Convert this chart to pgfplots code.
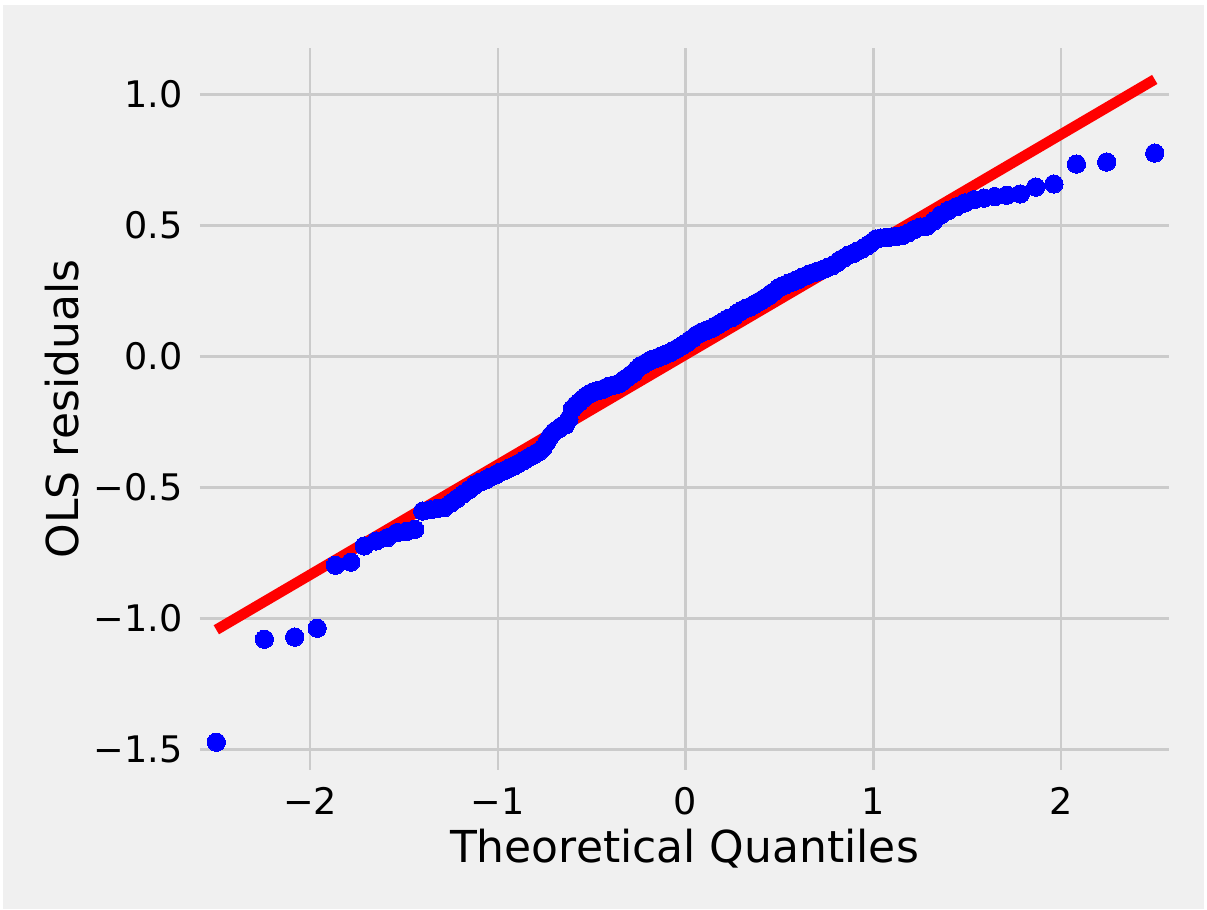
\documentclass[border=0pt]{standalone}
\usepackage{fontspec}
\setmainfont{DejaVu Sans}
\usepackage{pgfplots}
\pgfplotsset{compat=1.18}
\usepackage{pgfplotstable}
\definecolor{bg}{HTML}{F0F0F0}
\definecolor{gridc}{HTML}{CBCBCB}
\pgfplotstableread{
x y
-2.5000 -1.472
-2.2439 -1.079
-2.0828 -1.071
-1.9627 -1.037
-1.8655 -0.797
-1.7834 -0.785
-1.7117 -0.723
-1.6479 -0.704
-1.5902 -0.692
-1.5373 -0.672
-1.4884 -0.668
-1.4428 -0.660
-1.4001 -0.590
-1.3597 -0.585
-1.3215 -0.580
-1.2851 -0.577
-1.2503 -0.560
-1.2170 -0.542
-1.1850 -0.525
-1.1541 -0.509
-1.1244 -0.492
-1.0955 -0.480
-1.0676 -0.472
-1.0404 -0.460
-1.0141 -0.453
-0.9884 -0.442
-0.9633 -0.435
-0.9388 -0.425
-0.9149 -0.419
-0.8915 -0.409
-0.8686 -0.400
-0.8461 -0.390
-0.8240 -0.381
-0.8024 -0.372
-0.7811 -0.363
-0.7601 -0.350
-0.7395 -0.327
-0.7191 -0.303
-0.6991 -0.287
-0.6794 -0.278
-0.6599 -0.266
-0.6407 -0.262
-0.6217 -0.239
-0.6029 -0.200
-0.5843 -0.185
-0.5659 -0.174
-0.5478 -0.162
-0.5298 -0.151
-0.5119 -0.143
-0.4943 -0.136
-0.4767 -0.132
-0.4594 -0.129
-0.4421 -0.126
-0.4250 -0.119
-0.4081 -0.114
-0.3912 -0.111
-0.3744 -0.108
-0.3578 -0.105
-0.3412 -0.098
-0.3248 -0.087
-0.3084 -0.080
-0.2921 -0.070
-0.2759 -0.063
-0.2598 -0.049
-0.2437 -0.038
-0.2277 -0.032
-0.2118 -0.025
-0.1959 -0.018
-0.1800 -0.012
-0.1642 -0.009
-0.1484 -0.005
-0.1327 0.001
-0.1170 0.004
-0.1014 0.010
-0.0857 0.013
-0.0701 0.020
-0.0545 0.026
-0.0389 0.033
-0.0234 0.039
-0.0078 0.046
0.0078 0.052
0.0234 0.063
0.0389 0.069
0.0545 0.080
0.0701 0.086
0.0857 0.093
0.1014 0.096
0.1170 0.102
0.1327 0.105
0.1484 0.111
0.1642 0.118
0.1800 0.125
0.1959 0.131
0.2118 0.138
0.2277 0.145
0.2437 0.147
0.2598 0.154
0.2759 0.165
0.2921 0.172
0.3084 0.179
0.3248 0.185
0.3412 0.188
0.3578 0.195
0.3744 0.202
0.3912 0.209
0.4081 0.216
0.4250 0.224
0.4421 0.231
0.4594 0.242
0.4767 0.249
0.4943 0.261
0.5119 0.268
0.5298 0.272
0.5478 0.279
0.5659 0.283
0.5843 0.290
0.6029 0.294
0.6217 0.302
0.6407 0.307
0.6599 0.315
0.6794 0.319
0.6991 0.324
0.7191 0.328
0.7395 0.333
0.7601 0.341
0.7811 0.346
0.8024 0.355
0.8240 0.368
0.8461 0.377
0.8686 0.387
0.8915 0.392
0.9149 0.402
0.9388 0.409
0.9633 0.420
0.9884 0.433
1.0141 0.448
1.0404 0.452
1.0676 0.454
1.0955 0.456
1.1244 0.458
1.1541 0.461
1.1850 0.471
1.2170 0.484
1.2503 0.494
1.2851 0.497
1.3215 0.516
1.3597 0.540
1.4001 0.557
1.4428 0.571
1.4884 0.586
1.5373 0.598
1.5902 0.604
1.6479 0.610
1.7117 0.615
1.7834 0.620
1.8655 0.646
1.9627 0.658
2.0828 0.734
2.2439 0.742
2.5000 0.776
}\qqdata
\begin{document}
\begin{tikzpicture}
\fill[white] (0,0) rectangle (603.5pt,455pt);
\fill[bg] (1.5pt,0.5pt) rectangle (602pt,452.5pt);
\useasboundingbox (0,0) rectangle (603.5pt,455pt);
\begin{axis}[
  at={(100pt,70pt)}, anchor=south west,
  scale only axis, width=484.5pt, height=361pt,
  xmin=-2.587, xmax=2.576, ymin=-1.578, ymax=1.177,
  axis line style={draw=none},
  grid=major, major grid style={gridc, line width=1.31pt},
  major tick length=0pt,
  xtick={-2,-1,0,1,2}, xticklabels={−2,−1,0,1,2},
  ytick={-1.5,-1,-0.5,0,0.5,1}, yticklabels={−1.5,−1.0,−0.5,0.0,0.5,1.0},
  tick label style={font=\fontsize{18.3}{20}\selectfont, text=black},
  xticklabel style={anchor=base, inner sep=0pt, yshift=-22.5pt},
  yticklabel style={anchor=east, inner sep=0pt, xshift=-8.5pt},
  xlabel={Theoretical Quantiles}, ylabel={OLS residuals},
  every axis x label/.style={at={(axis description cs:0.5,0)}, anchor=base, yshift=-46.5pt, font=\fontsize{22}{26}\selectfont},
  every axis y label/.style={at={(axis description cs:-0.1424,0.5)}, rotate=90, anchor=center, font=\fontsize{22}{26}\selectfont},
]
\addplot[only marks, mark=*, mark size=4.58pt, color=blue, mark options={draw=blue, fill=blue, line width=0pt}] table {\qqdata};
\addplot[red, line width=5.24pt, no marks] coordinates {(-2.5,-1.043) (2.5,1.057)};
\end{axis}
\end{tikzpicture}
\end{document}
